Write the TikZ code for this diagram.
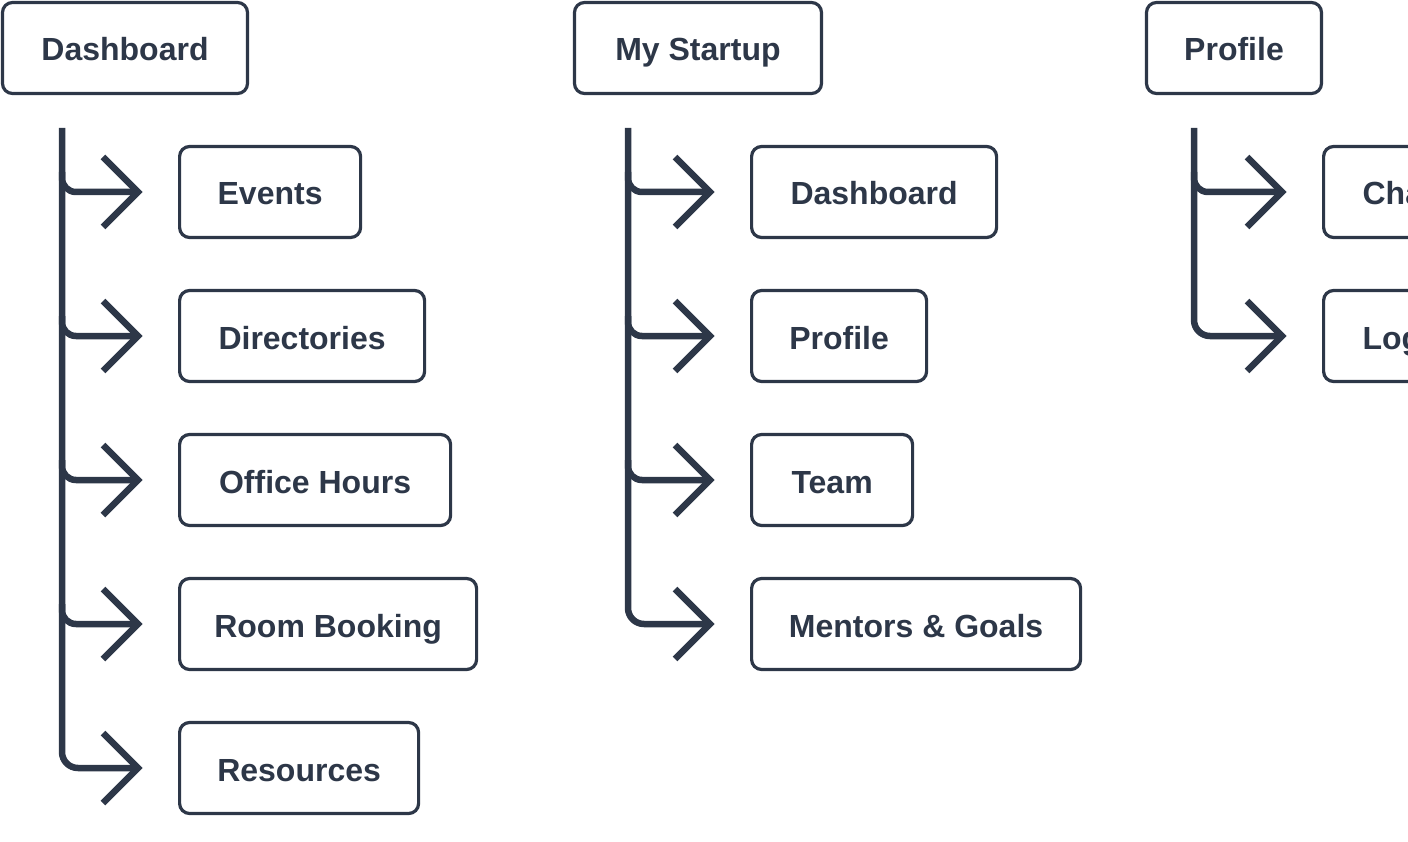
\documentclass[tikz,border=0pt]{standalone}
\usepackage{fontspec}
\setmainfont{Liberation Sans}
\usetikzlibrary{calc}
\definecolor{ink}{HTML}{2D3748}
\tikzset{
  box/.style={draw=ink, line width=3.2pt, rounded corners=10pt, minimum height=91pt, inner sep=0pt,
    text height=26pt, text depth=0pt,
    text=ink, font=\fontsize{32}{36}\selectfont\bfseries},
  cutbox/.style={box, inner xsep=39pt, anchor=west},
  conn/.style={draw=ink, line width=6.5pt, line cap=butt},
  chev/.style={draw=ink, line width=6.5pt, line join=miter, line cap=butt}
}
\newcommand\tipof[1]{($(#1.west)+(-40,0)$)}
\newcommand\chevon[1]{\draw[chev] ($(#1.west)+(-75,-35)$) -- ($(#1.west)+(-40,0)$) -- ($(#1.west)+(-75,35)$);}
\newcommand\brancho[2]{\draw[conn,rounded corners=14pt] (#1|-#2.west) ++(0,-20) |- \tipof{#2}; \chevon{#2}}
\newcommand\lastbr[2]{\draw[conn,rounded corners=16pt] (#1) |- \tipof{#2}; \chevon{#2}}
\begin{document}
\begin{tikzpicture}[x=1pt,y=-1pt]
\useasboundingbox (0,0) rectangle (1408,842);
\clip (0,0) rectangle (1408,842);
% parents
\node[box, minimum width=245] (p1) at (125,48) {Dashboard};
\node[box, minimum width=247] (p2) at (698,48) {My Startup};
\node[box, minimum width=175] (p3) at (1234,48) {Profile};
% column 1
\node[box, minimum width=181, anchor=west] (a1) at (178,192) {Events};
\node[box, minimum width=245, anchor=west] (a2) at (178,336) {Directories};
\node[box, minimum width=271, anchor=west] (a3) at (178,480) {Office Hours};
\node[box, minimum width=297, anchor=west] (a4) at (178,624) {Room Booking};
\node[box, minimum width=239, anchor=west] (a5) at (178,768) {Resources};
% column 2
\node[box, minimum width=245, anchor=west] (b1) at (750,192) {Dashboard};
\node[box, minimum width=175, anchor=west] (b2) at (750,336) {Profile};
\node[box, minimum width=161, anchor=west] (b3) at (750,480) {Team};
\node[box, minimum width=329, anchor=west] (b4) at (750,624) {Mentors \& Goals};
% column 3 (cut off at the right edge, as in the reference)
\node[cutbox] (c1) at (1322,192) {Change Password};
\node[cutbox] (c2) at (1322,336) {Logout};
% trunks
\coordinate (s1) at (62,128);
\coordinate (s2) at (628,128);
\coordinate (s3) at (1194,128);
\brancho{s1}{a1}
\brancho{s1}{a2}
\brancho{s1}{a3}
\brancho{s1}{a4}
\lastbr{s1}{a5}
\brancho{s2}{b1}
\brancho{s2}{b2}
\brancho{s2}{b3}
\lastbr{s2}{b4}
\brancho{s3}{c1}
\lastbr{s3}{c2}
\end{tikzpicture}
\end{document}
